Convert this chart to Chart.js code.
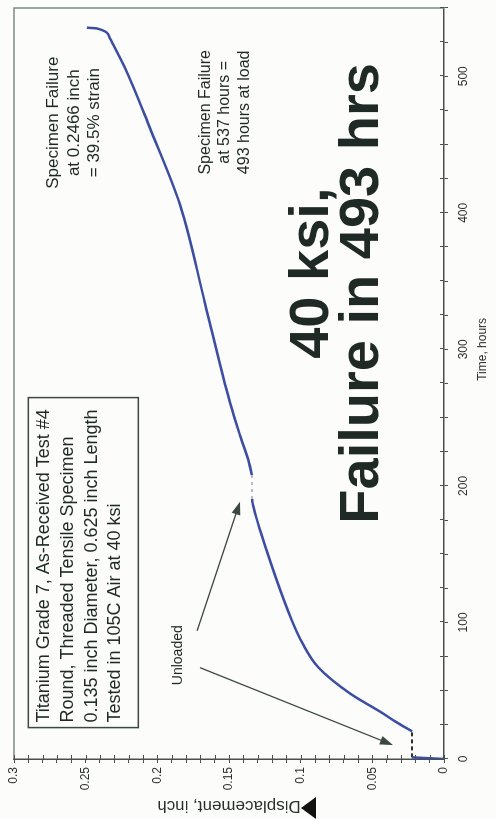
<!DOCTYPE html>
<html>
<head>
<meta charset="utf-8">
<script src="https://cdn.jsdelivr.net/npm/chart.js@4.4.1/dist/chart.umd.min.js"></script>
<style>
  html, body { margin: 0; padding: 0; background: #fcfcfa; }
  body { width: 496px; height: 819px; overflow: hidden; position: relative; }
  /* the plot is laid out landscape and turned a quarter turn counter-clockwise */
  #turn { position: absolute; left: 0; top: 0; width: 819px; height: 496px;
          transform-origin: 0 0; transform: translate(0, 819px) rotate(-90deg); }
</style>
</head>
<body>
<div id="turn"><canvas id="creepChart" width="819" height="496"></canvas></div>
<script>
// Ti Grade 7, test #4 at 40 ksi: displacement (inch) vs time (hours)

// initial load-up
const loadTime = [0, 1.2];
const loadDisp = [0, 0.0223];
// first unloaded hold
const hold1Time = [1.2, 20.3];
const hold1Disp = [0.0223, 0.0223];
// creep under load until the second unload
const creep1Time = [20.3, 21.1, 27.6, 33.4, 48, 66.9, 84.3, 103.2, 151.9, 186, 190.4];
const creep1Disp = [0.0223, 0.0237, 0.0342, 0.0426, 0.0656, 0.0875, 0.0985, 0.1068, 0.1235, 0.1333, 0.134];
// second unloaded hold
const hold2Time = [190.4, 207.8];
const hold2Disp = [0.134, 0.134];
// creep to failure
const creep2Time = [207.8, 217, 237, 261, 333.6, 406, 462, 503, 527.6, 535, 535.6];
const creep2Disp = [0.134, 0.136, 0.1423, 0.1493, 0.1667, 0.1842, 0.2051, 0.2212, 0.233, 0.2421, 0.2491];

const timeLabelStep = 100;
const dispLabelStep = 0.05;

const specLines = [
  'Titanium Grade 7, As-Received Test #4',
  'Round, Threaded Tensile Specimen',
  '0.135 inch Diameter, 0.625 inch Length',
  'Tested in 105C Air at 40 ksi'
];
const strainNote = ['Specimen Failure', 'at 0.2466 inch', '= 39.5% strain'];
const timeNote = ['Specimen Failure', 'at 537 hours =', '493 hours at load'];
const headline = ['40 ksi,', 'Failure in 493 hrs'];

const FONT = '"Liberation Sans", Arial, sans-serif';
const INK = '#1f2a26';
const AXIS = '#4a4f4d';
const BLUE = '#3c4ea2';

Chart.defaults.font.family = FONT;
Chart.defaults.color = '#2a2f2d';

const seg = (ts, ds) => ts.map((t, i) => ({ x: t, y: ds[i] }));

function arrow(ctx, x1, y1, x2, y2) {
  const a = Math.atan2(y2 - y1, x2 - x1);
  const c = Math.cos(a), s = Math.sin(a);
  ctx.beginPath();
  ctx.moveTo(x1, y1);
  ctx.lineTo(x2 - 9 * c, y2 - 9 * s);
  ctx.stroke();
  ctx.beginPath();
  ctx.moveTo(x2, y2);
  ctx.lineTo(x2 - 13 * c + 4.5 * s, y2 - 13 * s - 4.5 * c);
  ctx.lineTo(x2 - 13 * c - 4.5 * s, y2 - 13 * s + 4.5 * c);
  ctx.closePath();
  ctx.fill();
}

function block(ctx, lines, cx, cy, pitch) {
  const top = cy - pitch * (lines.length - 1) / 2;
  lines.forEach((l, i) => ctx.fillText(l, cx, top + i * pitch));
}

const decorations = {
  id: 'decorations',
  beforeDraw(chart) {
    const { ctx, width, height } = chart;
    ctx.save();
    ctx.fillStyle = '#fcfcfa';
    ctx.fillRect(0, 0, width, height);
    ctx.restore();
  },
  beforeDatasetsDraw(chart) {
    const { ctx, chartArea: a, scales: { x, y } } = chart;
    ctx.save();
    // frame
    ctx.strokeStyle = '#7d8a85';
    ctx.lineWidth = 1.5;
    ctx.beginPath();
    ctx.moveTo(a.left, a.top);
    ctx.lineTo(a.right, a.top);
    ctx.lineTo(a.right, a.bottom);
    ctx.stroke();
    // tick marks reaching into the plot
    ctx.strokeStyle = AXIS;
    ctx.lineWidth = 1;
    x.ticks.forEach(t => {
      const px = Math.round(x.getPixelForValue(t.value)) + 0.5;
      ctx.beginPath(); ctx.moveTo(px, a.bottom); ctx.lineTo(px, a.bottom - 4); ctx.stroke();
    });
    y.ticks.forEach(t => {
      const py = Math.round(y.getPixelForValue(t.value)) + 0.5;
      ctx.beginPath(); ctx.moveTo(a.left, py); ctx.lineTo(a.left + 4, py); ctx.stroke();
    });
    ctx.restore();
  },
  afterDatasetsDraw(chart) {
    const { ctx, chartArea: a, scales: { x, y } } = chart;
    ctx.save();
    ctx.fillStyle = INK;
    ctx.strokeStyle = '#3b4743';

    // specimen box
    const bx = x.getPixelForValue(23), by = y.getPixelForValue(0.29);
    ctx.lineWidth = 1.5;
    ctx.strokeRect(bx, by, 330, 110);
    ctx.font = '18px ' + FONT;
    ctx.textAlign = 'left';
    ctx.textBaseline = 'middle';
    specLines.forEach((l, i) => ctx.fillText(l, bx + 5, by + 16 + i * 23.7));

    // unloaded arrows
    ctx.font = '14px ' + FONT;
    ctx.textAlign = 'center';
    ctx.fillText('Unloaded', x.getPixelForValue(76), y.getPixelForValue(0.1856));
    ctx.lineWidth = 1.3;
    ctx.fillStyle = '#3b4743';
    arrow(ctx, x.getPixelForValue(93.9), y.getPixelForValue(0.1723),
               x.getPixelForValue(188.4), y.getPixelForValue(0.1423));
    arrow(ctx, x.getPixelForValue(66.9), y.getPixelForValue(0.1702),
               x.getPixelForValue(10.2), y.getPixelForValue(0.0356));
    ctx.fillStyle = INK;

    // failure notes
    ctx.font = '17px ' + FONT;
    block(ctx, strainNote, x.getPixelForValue(466), y.getPixelForValue(0.258), 20.5);
    ctx.font = '16px ' + FONT;
    block(ctx, timeNote, x.getPixelForValue(473.6), y.getPixelForValue(0.1528), 19.5);

    // headline
    ctx.font = 'bold 56px ' + FONT;
    ctx.fillText(headline[0], x.getPixelForValue(355.8), y.getPixelForValue(0.0915));
    ctx.fillText(headline[1], x.getPixelForValue(341), y.getPixelForValue(0.0565));

    // time axis title, centred under 300 h
    ctx.font = '12px ' + FONT;
    ctx.fillStyle = '#2a2f2d';
    ctx.fillText('Time, hours', x.getPixelForValue(300), a.bottom + 39);

    // marker beside the displacement title
    const my = (a.top + a.bottom) / 2 + 72;
    ctx.fillStyle = '#111';
    ctx.beginPath();
    ctx.moveTo(11, my);
    ctx.lineTo(22, my + 15);
    ctx.lineTo(0, my + 15);
    ctx.closePath();
    ctx.fill();
    ctx.restore();
  }
};

new Chart(document.getElementById('creepChart'), {
  type: 'line',
  data: {
    datasets: [
      { data: seg(loadTime, loadDisp), borderColor: BLUE, borderWidth: 2.5 },
      { data: seg(hold1Time, hold1Disp), borderColor: '#2b2f2e', borderWidth: 2, borderDash: [4, 3] },
      { data: seg(creep1Time, creep1Disp), borderColor: BLUE, borderWidth: 2.5, cubicInterpolationMode: 'monotone' },
      { data: seg(hold2Time, hold2Disp), borderColor: '#b9bdc9', borderWidth: 2, borderDash: [3, 4] },
      { data: seg(creep2Time, creep2Disp), borderColor: BLUE, borderWidth: 2.5, cubicInterpolationMode: 'monotone' }
    ]
  },
  options: {
    responsive: false,
    animation: false,
    events: [],
    layout: { padding: { top: 14, right: 3, left: 0, bottom: 0 } },
    elements: { point: { radius: 0 }, line: { fill: false } },
    plugins: { legend: { display: false }, tooltip: { enabled: false } },
    scales: {
      x: {
        type: 'linear',
        min: 0, max: 550,
        grid: { drawOnChartArea: false, tickLength: 4, color: AXIS },
        border: { color: AXIS, width: 1.5 },
        ticks: {
          stepSize: 25, autoSkip: false, maxRotation: 0, padding: 8,
          font: { size: 12 },
          callback: v => (v % timeLabelStep === 0 ? String(v) : '')
        },
        afterFit: s => { s.height = 52; }
      },
      y: {
        type: 'linear',
        min: 0, max: 0.3,
        grid: { drawOnChartArea: false, tickLength: 4, color: AXIS },
        border: { color: AXIS, width: 1.5 },
        title: { display: true, text: 'Displacement, inch', font: { size: 17 }, padding: { top: 3, bottom: 0 } },
        ticks: {
          stepSize: 0.01, autoSkip: false, padding: 4,
          font: { size: 12 },
          callback: v => {
            const c = Math.round(v * 100);
            return c % Math.round(dispLabelStep * 100) === 0 ? String(c / 100) : '';
          }
        },
        afterFit: s => { s.width = 60; }
      }
    }
  },
  plugins: [decorations]
});
</script>
</body>
</html>
